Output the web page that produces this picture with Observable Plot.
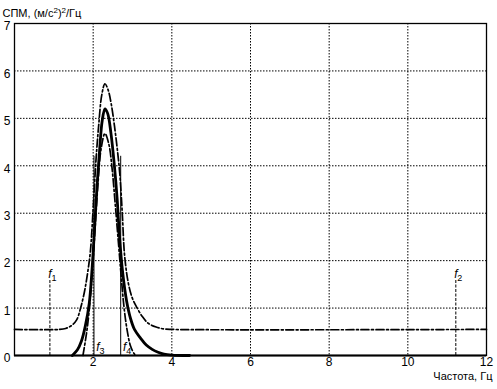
<!DOCTYPE html>
<html><head><meta charset="utf-8">
<script src="https://cdn.jsdelivr.net/npm/d3@7"></script>
<script src="https://cdn.jsdelivr.net/npm/@observablehq/plot@0.6"></script>
<style>body{margin:0;background:#fff}</style>
</head><body><div id="chart"></div>
<script>
// Axis ticks
const xTicks = [2, 4, 6, 8, 10, 12];
const yTicks = [0, 1, 2, 3, 4, 5, 6, 7];
const xGrid = [2, 4, 6, 8, 10];
const yGrid = [1, 2, 3, 4, 5, 6];
const xLabel = "Частота, Гц";
const yLabel = "СПМ, (м/с²)²/Гц";

// Solid PSD curve
const solidX = [1.47, 1.6, 1.7, 1.8, 1.9, 1.97, 2.03, 2.1, 2.17, 2.23, 2.3, 2.37, 2.45, 2.54, 2.61, 2.67, 2.75, 2.85, 2.95, 3.05, 3.2, 3.35, 3.5, 3.65, 3.8, 4.0, 4.45];
const solidY = [0, 0.12, 0.3, 0.62, 1.1, 1.8, 2.6, 3.6, 4.4, 4.95, 5.2, 5.1, 4.7, 4.0, 3.3, 2.5, 1.75, 1.15, 0.78, 0.55, 0.37, 0.22, 0.13, 0.07, 0.03, 0.01, 0];

// Upper dash-dot curve (with 0.55 floor)
const upperX = [0, 1.15, 1.3, 1.45, 1.58, 1.68, 1.78, 1.86, 1.93, 2.0, 2.07, 2.14, 2.22, 2.3, 2.38, 2.46, 2.54, 2.62, 2.68, 2.74, 2.8, 2.9, 3.0, 3.12, 3.25, 3.4, 3.6, 3.8, 4.0, 12];
const upperY = [0.55, 0.55, 0.57, 0.63, 0.75, 1.0, 1.35, 1.75, 2.2, 3.1, 4.1, 4.85, 5.5, 5.73, 5.6, 5.3, 4.85, 4.3, 3.8, 3.0, 2.1, 1.5, 1.2, 1.0, 0.82, 0.68, 0.6, 0.56, 0.55, 0.55];

// Lower dash-dot curve
const lowerX = [1.74, 1.8, 1.86, 1.92, 1.98, 2.05, 2.12, 2.2, 2.3, 2.4, 2.48, 2.56, 2.64, 2.71, 2.78, 2.86, 2.95, 3.05, 3.1];
const lowerY = [0, 0.3, 0.65, 1.15, 1.8, 2.7, 3.6, 4.35, 4.68, 4.45, 3.95, 3.2, 2.4, 1.7, 1.05, 0.55, 0.2, 0.03, 0];

// Frequency markers f1..f4
const markerNames = ["1", "2", "3", "4"];
const markerX = [0.9, 11.22, 2.02, 2.7];
const markerTop = [1.6, 1.6, 4.2, 4.2];

const rows = (xs, ys) => xs.map((x, i) => ({x, y: ys[i]}));
const solid = rows(solidX, solidY);
const upper = rows(upperX, upperY);
const lower = rows(lowerX, lowerY);
const markers = markerNames.map((n, i) => ({n, x: markerX[i], top: markerTop[i]}));
const dashedM = markers.slice(0, 2);
const solidM = markers.slice(2);

const font = "'Liberation Sans', Arial, sans-serif";
const chart = Plot.plot({
  width: 497, height: 389,
  marginLeft: 14, marginRight: 11, marginTop: 23, marginBottom: 34,
  style: {fontFamily: font, fontSize: "12px", background: "#fff", color: "#000"},
  x: {domain: [0, 12]},
  y: {domain: [0, 7]},
  marks: [
    Plot.ruleX(xGrid, {stroke: "#000", strokeWidth: 1, strokeDasharray: "1.5,1.5"}),
    Plot.ruleY(yGrid, {stroke: "#000", strokeWidth: 1, strokeDasharray: "1.5,1.5"}),
    Plot.ruleX(dashedM, {x: "x", y1: 0, y2: "top", stroke: "#000", strokeWidth: 1, strokeDasharray: "3,1.5"}),
    Plot.ruleX(solidM, {x: "x", y1: 0, y2: "top", stroke: "#000", strokeWidth: 1}),
    Plot.line(upper, {x: "x", y: "y", curve: "catmull-rom", stroke: "#000", strokeWidth: 1.7, strokeDasharray: "8,2.5,2,2.5"}),
    Plot.line(lower, {x: "x", y: "y", curve: "catmull-rom", stroke: "#000", strokeWidth: 1.7, strokeDasharray: "8,2.5,2,2.5"}),
    Plot.line(solid, {x: "x", y: "y", curve: "catmull-rom", stroke: "#000", strokeWidth: 2.8}),
    Plot.text(dashedM, {x: "x", y: "top", text: () => "f", fontStyle: "italic", fontSize: 12, lineAnchor: "bottom", dy: -2}),
    Plot.text(dashedM, {x: "x", y: "top", text: "n", fontSize: 9, lineAnchor: "bottom", dx: 4, dy: 1}),
    Plot.text(solidM, {x: "x", y: 0, text: () => "f", fontStyle: "italic", fontSize: 12, lineAnchor: "bottom", dx: 4, dy: -5}),
    Plot.text(solidM, {x: "x", y: 0, text: "n", fontSize: 9, lineAnchor: "bottom", dx: 8, dy: -2}),
    Plot.ruleY([0], {stroke: "#000", strokeWidth: 2}),
    Plot.frame({stroke: "#000", strokeWidth: 1.3}),
    Plot.axisX(xTicks, {tickSize: 0, tickPadding: 2, label: null, fontSize: 12}),
    Plot.axisY(yTicks, {tickSize: 0, tickPadding: 4, label: null, fontSize: 12, dy: 3}),
    Plot.text([xLabel], {frameAnchor: "bottom-right", text: d => d, textAnchor: "end", dx: 6, dy: 24, fontSize: 11}),
    Plot.text([yLabel], {frameAnchor: "top-left", text: d => d, textAnchor: "start", dx: -12, dy: -14, fontSize: 11})
  ]
});
// Render the squared units as true superscripts
d3.select(chart).selectAll("text").each(function() {
  if (this.textContent === yLabel) {
    const t = d3.select(this);
    const parts = yLabel.split("²");
    t.text(null);
    parts.forEach((p, i) => {
      t.append("tspan").attr("dy", i === 0 ? null : "4").text(p);
      if (i < parts.length - 1) t.append("tspan").attr("dy", "-4").attr("font-size", 8).text("2");
    });
  }
});
document.getElementById("chart").appendChild(chart);
</script>
</body></html>
